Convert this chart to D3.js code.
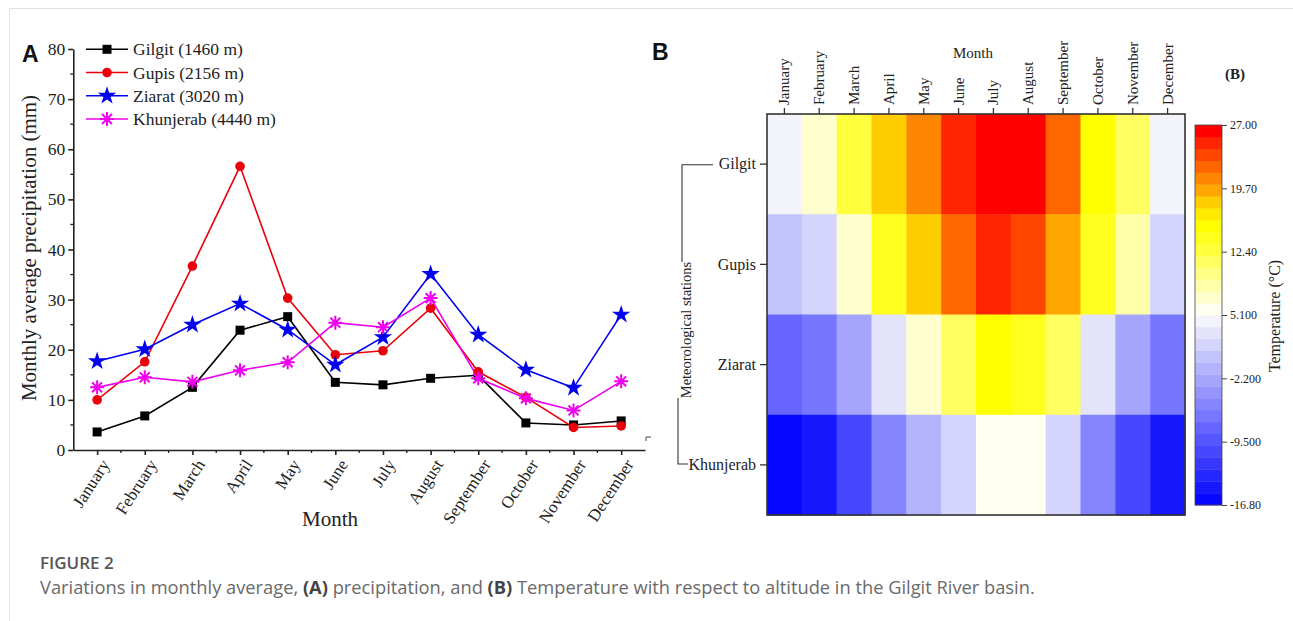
<!DOCTYPE html>
<html><head><meta charset="utf-8">
<script src="https://cdn.jsdelivr.net/npm/d3@7/dist/d3.min.js"></script>
<style>
html,body{margin:0;padding:0;background:#fff;}
svg{display:block;}
</style></head>
<body>
<svg id="c" width="1293" height="621"></svg>
<script>
const months = ["January","February","March","April","May","June","July","August","September","October","November","December"];
const stations = ["Gilgit","Gupis","Ziarat","Khunjerab"];
const seriesNames = ["Gilgit (1460 m)","Gupis (2156 m)","Ziarat (3020 m)","Khunjerab (4440 m)"];
const gilgitPrecip = [3.6,6.8,12.5,23.9,26.6,13.5,13.0,14.3,14.9,5.4,5.0,5.8];
const gupisPrecip = [10.0,17.6,36.7,56.6,30.3,19.0,19.8,28.3,15.6,10.5,4.5,4.8];
const ziaratPrecip = [17.7,20.1,25.0,29.2,24.0,17.0,22.5,35.1,23.0,16.0,12.4,27.0];
const khunjerabPrecip = [12.5,14.5,13.6,15.9,17.5,25.4,24.5,30.3,14.3,10.3,7.9,13.7];
const yTicks = [0,10,20,30,40,50,60,70,80];
// temperature (°C) per station, month
const gilgitTemp = [4.4,7.1,12.6,18.1,20.8,24.9,26.3,26.3,22.2,15.4,11.2,4.4];
const gupisTemp = [0.3,1.7,7.5,14.0,18.1,22.2,24.9,23.6,19.5,14.0,8.5,1.7];
const ziaratTemp = [-7.9,-6.5,-2.4,3.0,6.8,11.2,15.0,13.5,11.2,3.0,-2.4,-6.5];
const khunjerabTemp = [-16.1,-14.7,-10.6,-5.2,-1.0,1.7,5.8,5.8,1.7,-5.2,-10.6,-14.7];
const colorTicks = ["27.00","19.70","12.40","5.100","-2.200","-9.500","-16.80"];

const svg = d3.select("#c");
const serif = "'Liberation Serif','Times New Roman',serif";

// card border
svg.append("line").attr("x1",9.5).attr("x2",1293).attr("y1",8.5).attr("y2",8.5).attr("stroke","#e2e2e2");
svg.append("line").attr("x1",9.5).attr("x2",9.5).attr("y1",8.5).attr("y2",621).attr("stroke","#e2e2e2");

// ---------- Panel A ----------
const x = d3.scaleLinear().domain([0.5,12.5]).range([73.3,645]);
const y = d3.scaleLinear().domain([0,80]).range([450,49]);
const gA = svg.append("g");

const minorY = d3.range(5,80,10);
gA.selectAll(".my").data(minorY).enter().append("line")
  .attr("x1",x(0.5)-3).attr("x2",x(0.5)).attr("y1",d=>y(d)).attr("y2",d=>y(d))
  .attr("stroke","#222").attr("stroke-width",1.3);
const minorX = d3.range(1.5,12.5,1);
gA.selectAll(".mx").data(minorX).enter().append("line")
  .attr("x1",d=>x(d)).attr("x2",d=>x(d)).attr("y1",450).attr("y2",453)
  .attr("stroke","#222").attr("stroke-width",1.3);

const yAxis = gA.append("g").attr("transform",`translate(${x(0.5)},0)`)
  .call(d3.axisLeft(y).tickValues(yTicks).tickSize(5).tickPadding(3).tickSizeOuter(0));
yAxis.selectAll("text").attr("font-family",serif).attr("font-size",17.5).attr("fill","#222");
yAxis.selectAll("line,path").attr("stroke","#222").attr("stroke-width",1.6);

const xAxis = gA.append("g").attr("transform",`translate(0,450)`)
  .call(d3.axisBottom(x).tickValues(d3.range(1,13)).tickSize(5).tickSizeOuter(0).tickFormat(d=>months[d-1]));
xAxis.selectAll("line,path").attr("stroke","#222").attr("stroke-width",1.6);
xAxis.selectAll("text").attr("font-family",serif).attr("font-size",17).attr("fill","#222")
  .attr("text-anchor","end").attr("dx",0).attr("dy",0)
  .attr("transform","translate(6,10) rotate(-57)");

gA.append("text").attr("x",330).attr("y",526).attr("text-anchor","middle")
  .attr("font-family",serif).attr("font-size",21).attr("fill","#222").text("Month");
gA.append("text").attr("transform","translate(36,248) rotate(-90)").attr("text-anchor","middle")
  .attr("font-family",serif).attr("font-size",21).attr("fill","#222").text("Monthly average precipitation (mm)");
svg.append("text").attr("x",22).attr("y",62).attr("font-family","'Liberation Sans',Arial,sans-serif")
  .attr("font-weight","bold").attr("font-size",23).attr("fill","#111").text("A");

const seriesData = [gilgitPrecip,gupisPrecip,ziaratPrecip,khunjerabPrecip];
const colors = ["#000000","#e8000b","#0000ee","#ee00ee"];
const markerTypes = ["square","circle","star","asterisk"];

function drawMarker(g, type, color){
  if(type==="square"){
    g.append("rect").attr("x",-4.5).attr("y",-4.5).attr("width",9).attr("height",9).attr("fill",color);
  } else if(type==="circle"){
    g.append("circle").attr("r",4.8).attr("fill",color);
  } else if(type==="star"){
    g.append("path").attr("d",d3.symbol().type(d3.symbolStar).size(105)()).attr("fill",color);
  } else {
    const r=7;
    const p = d3.range(4).map(i=>{const a=i*Math.PI/4;return `M${-r*Math.cos(a)},${-r*Math.sin(a)}L${r*Math.cos(a)},${r*Math.sin(a)}`;}).join("");
    g.append("path").attr("d",p).attr("stroke",color).attr("stroke-width",2).attr("fill","none");
  }
}

const line = d3.line().x((d,i)=>x(i+1)).y(d=>y(d));
seriesData.forEach((vals,k)=>{
  gA.append("path").datum(vals).attr("d",line).attr("fill","none").attr("stroke",colors[k]).attr("stroke-width",1.6);
});
seriesData.forEach((vals,k)=>{
  vals.forEach((v,i)=>{
    const g = gA.append("g").attr("transform",`translate(${x(i+1)},${y(v)})`);
    drawMarker(g, markerTypes[k], colors[k]);
  });
});

const legY = [49.3,72.5,95.8,119];
seriesNames.forEach((n,k)=>{
  const g = gA.append("g").attr("transform",`translate(0,${legY[k]})`);
  g.append("line").attr("x1",86).attr("x2",128).attr("stroke",colors[k]).attr("stroke-width",1.6);
  const m = g.append("g").attr("transform","translate(107,0)");
  drawMarker(m, markerTypes[k], colors[k]);
  g.append("text").attr("x",133).attr("y",6).attr("font-family",serif).attr("font-size",17.5).attr("fill","#222").text(n);
});

// ---------- Panel B ----------
const temps = [gilgitTemp,gupisTemp,ziaratTemp,khunjerabTemp];
const tMin = -16.8, tMax = 27.0, nBands = 32;
const stopVals = [-16.8, 4.4, 5.8, 12.6, 15.4, 16.7, 18.1, 19.5, 22.2, 24.9, 26.3];
const stopCols = ["rgb(0,0,255)","rgb(243,243,252)","rgb(255,255,240)","rgb(255,255,62)","rgb(255,255,0)","rgb(255,236,0)","rgb(255,205,0)","rgb(255,165,0)","rgb(255,102,0)","rgb(255,38,0)","rgb(255,0,0)"];
const cont = d3.scaleLinear().domain(stopVals).range(stopCols).interpolate(d3.interpolateRgb).clamp(true);
const bandW = (tMax-tMin)/nBands;
function tcolor(v){
  let b = Math.floor((v-tMin)/bandW); b = Math.max(0,Math.min(nBands-1,b));
  return cont(tMin + (b+0.5)*bandW);
}

const hx = d3.scaleBand().domain(months).range([767,1185]);
const hy = d3.scaleBand().domain(stations).range([114,515]);
const gB = svg.append("g");
temps.forEach((row,r)=>{
  row.forEach((v,c)=>{
    gB.append("rect").attr("x",hx(months[c])).attr("y",hy(stations[r]))
      .attr("width",hx.bandwidth()+0.5).attr("height",hy.bandwidth()+0.5).attr("fill",tcolor(v));
  });
});
gB.append("rect").attr("x",767).attr("y",114).attr("width",418).attr("height",401)
  .attr("fill","none").attr("stroke","#333").attr("stroke-width",1.6);

const topAxis = gB.append("g").attr("transform","translate(0,114)")
  .call(d3.axisTop(hx).tickSize(6).tickSizeOuter(0));
topAxis.select("path").remove();
topAxis.selectAll("line").attr("stroke","#333").attr("stroke-width",1.3);
topAxis.selectAll("text").attr("font-family",serif).attr("font-size",15).attr("fill","#222")
  .attr("text-anchor","start").attr("transform","rotate(-90)").attr("x",9).attr("y",0).attr("dy","0.33em");

const leftAxis = gB.append("g").attr("transform","translate(767,0)")
  .call(d3.axisLeft(hy).tickSize(7).tickSizeOuter(0).tickPadding(4));
leftAxis.select("path").remove();
leftAxis.selectAll("line").attr("stroke","#333").attr("stroke-width",1.3);
leftAxis.selectAll("text").attr("font-family",serif).attr("font-size",16).attr("fill","#222");

gB.append("text").attr("x",973).attr("y",58).attr("text-anchor","middle").attr("font-family",serif)
  .attr("font-size",15).attr("fill","#222").text("Month");
svg.append("text").attr("x",652).attr("y",60).attr("font-family","'Liberation Sans',Arial,sans-serif")
  .attr("font-weight","bold").attr("font-size",23).attr("fill","#111").text("B");
gB.append("text").attr("x",1225).attr("y",79).attr("font-family",serif).attr("font-weight","bold")
  .attr("font-size",15).attr("fill","#222").text("(B)");

// bracket + group label
gB.append("path").attr("d","M713,164.7H682V262").attr("fill","none").attr("stroke","#333").attr("stroke-width",1.1);
gB.append("path").attr("d","M678,398V464H688").attr("fill","none").attr("stroke","#333").attr("stroke-width",1.1);
gB.append("text").attr("transform","translate(691,330) rotate(-90)").attr("text-anchor","middle")
  .attr("font-family",serif).attr("font-size",14.5).attr("fill","#222").text("Meteorological stations");
gB.append("path").attr("d","M646,441V437H651").attr("fill","none").attr("stroke","#444").attr("stroke-width",1);

// colorbar
const cbTop = 125, cbBot = 505, cbX = 1195, cbW = 27;
const cy = d3.scaleLinear().domain([tMin,tMax]).range([cbBot,cbTop]);
d3.range(nBands).forEach(b=>{
  const v0 = tMin + b*bandW, v1 = v0 + bandW;
  gB.append("rect").attr("x",cbX).attr("y",cy(v1)).attr("width",cbW).attr("height",cy(v0)-cy(v1)+0.4)
    .attr("fill",cont(v0+bandW/2));
});
gB.append("rect").attr("x",cbX).attr("y",cbTop).attr("width",cbW).attr("height",cbBot-cbTop)
  .attr("fill","none").attr("stroke","#444").attr("stroke-width",0.8);
const cbAxis = gB.append("g").attr("transform",`translate(${cbX+cbW},0)`)
  .call(d3.axisRight(cy).tickValues(colorTicks.map(Number)).tickSize(5).tickSizeOuter(0)
    .tickFormat((d,i)=>colorTicks[i]));
cbAxis.select("path").remove();
cbAxis.selectAll("line").attr("stroke","#444");
cbAxis.selectAll("text").attr("font-family",serif).attr("font-size",12).attr("fill","#222");
gB.append("text").attr("transform","translate(1280,316) rotate(-90)").attr("text-anchor","middle")
  .attr("font-family",serif).attr("font-size",16).attr("fill","#222").text("Temperature (°C)");

// caption
const capFont = "'Open Sans','Noto Sans',sans-serif";
svg.append("text").attr("x",40).attr("y",569).attr("font-family",capFont).attr("font-size",17)
  .attr("fill","#555").attr("font-weight",600).text("FIGURE 2");
const cap = svg.append("text").attr("x",40).attr("y",594).attr("font-family",capFont).attr("font-size",18.3).attr("fill","#6a6a6a");
cap.append("tspan").text("Variations in monthly average, ");
cap.append("tspan").attr("font-weight","bold").attr("fill","#444").text("(A)");
cap.append("tspan").text(" precipitation, and ");
cap.append("tspan").attr("font-weight","bold").attr("fill","#444").text("(B)");
cap.append("tspan").text(" Temperature with respect to altitude in the Gilgit River basin.");
</script>
</body></html>
